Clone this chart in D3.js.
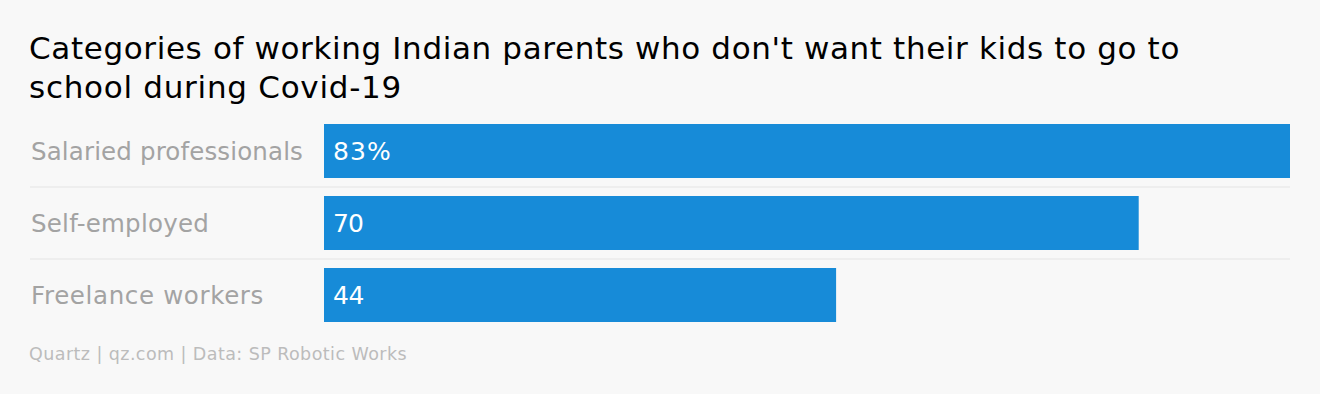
<!DOCTYPE html>
<html>
<head>
<meta charset="utf-8">
<script src="https://cdn.jsdelivr.net/npm/d3@7"></script>
<style>
  html, body { margin: 0; padding: 0; background: #f8f8f8; }
  svg { display: block; font-family: "DejaVu Sans", "Liberation Sans", sans-serif; }
</style>
</head>
<body>
<div class="chart"></div>
<script>
const width = 1320
const height = 394

// Data
const categories = ["Salaried professionals", "Self-employed", "Freelance workers"]
const values = [83, 70, 44]
const valueLabels = ["83%", "70", "44"]

const titleLines = [
    "Categories of working Indian parents who don't want their kids to go to",
    "school during Covid-19"
]
const footer = "Quartz | qz.com | Data: SP Robotic Works"

const svg = d3.select('.chart')
    .append('svg')
    .attr('width', width)
    .attr('height', height)

svg.append("rect")
    .attr("width", width)
    .attr("height", height)
    .attr("fill", "#f8f8f8")

// squeeze / stretch a text node to the width it has in the reference
function fitWidth(sel, target) {
    sel.each(function(d, i) {
        const w = typeof target === "function" ? target(d, i) : target
        const len = this.getComputedTextLength()
        const n = this.textContent.length
        d3.select(this).attr("letter-spacing", ((w - len) / n).toFixed(3))
    })
}

// Title
const titleWidths = [1151, 373]
svg.append("g")
    .selectAll("text")
    .data(titleLines)
    .join("text")
        .attr("x", 29)
        .attr("y", (d, i) => 59 + i * 39)
        .attr("font-size", "31px")
        .attr("fill", "#000")
        .text(d => d)
        .call(fitWidth, (d, i) => titleWidths[i])

// Scales
const x = d3.scaleLinear()
    .domain([0, 83])
    .range([324, 1290])

const y = d3.scaleBand()
    .domain(categories)
    .range([115, 331])
    .paddingInner(0.25)
    .paddingOuter(0.125)

// separator lines between rows
svg.append("g")
    .selectAll("line")
    .data(categories.slice(0, -1))
    .join("line")
        .attr("x1", 30)
        .attr("x2", 1290)
        .attr("y1", d => y(d) + y.bandwidth() + 9)
        .attr("y2", d => y(d) + y.bandwidth() + 9)
        .attr("stroke", "#e4e4e4")
        .attr("stroke-width", 1.2)

// Bars
svg.append("g")
    .selectAll("rect")
    .data(values)
    .join("rect")
        .attr("x", x(0))
        .attr("y", (d, i) => y(categories[i]))
        .attr("width", d => x(d) - x(0))
        .attr("height", y.bandwidth())
        .attr("fill", "#178bd8")

// Category labels
const labelWidths = [272, 178, 233]
svg.append("g")
    .selectAll("text")
    .data(categories)
    .join("text")
        .attr("x", 31)
        .attr("y", d => y(d) + y.bandwidth() / 2 + 9)
        .attr("font-size", "24.5px")
        .attr("fill", "#a3a3a3")
        .text(d => d)
        .call(fitWidth, (d, i) => labelWidths[i])

// Value labels inside bars
const valueWidths = [59, 30, 31]
svg.append("g")
    .selectAll("text")
    .data(valueLabels)
    .join("text")
        .attr("x", x(0) + 9)
        .attr("y", (d, i) => y(categories[i]) + y.bandwidth() / 2 + 9)
        .attr("font-size", "25px")
        .attr("fill", "#fff")
        .text(d => d)
        .call(fitWidth, (d, i) => valueWidths[i])

// Footer
svg.append("text")
    .attr("x", 29)
    .attr("y", 360)
    .attr("font-size", "17.5px")
    .attr("fill", "#bcbcbc")
    .text(footer)
    .call(fitWidth, 378)
</script>
</body>
</html>
